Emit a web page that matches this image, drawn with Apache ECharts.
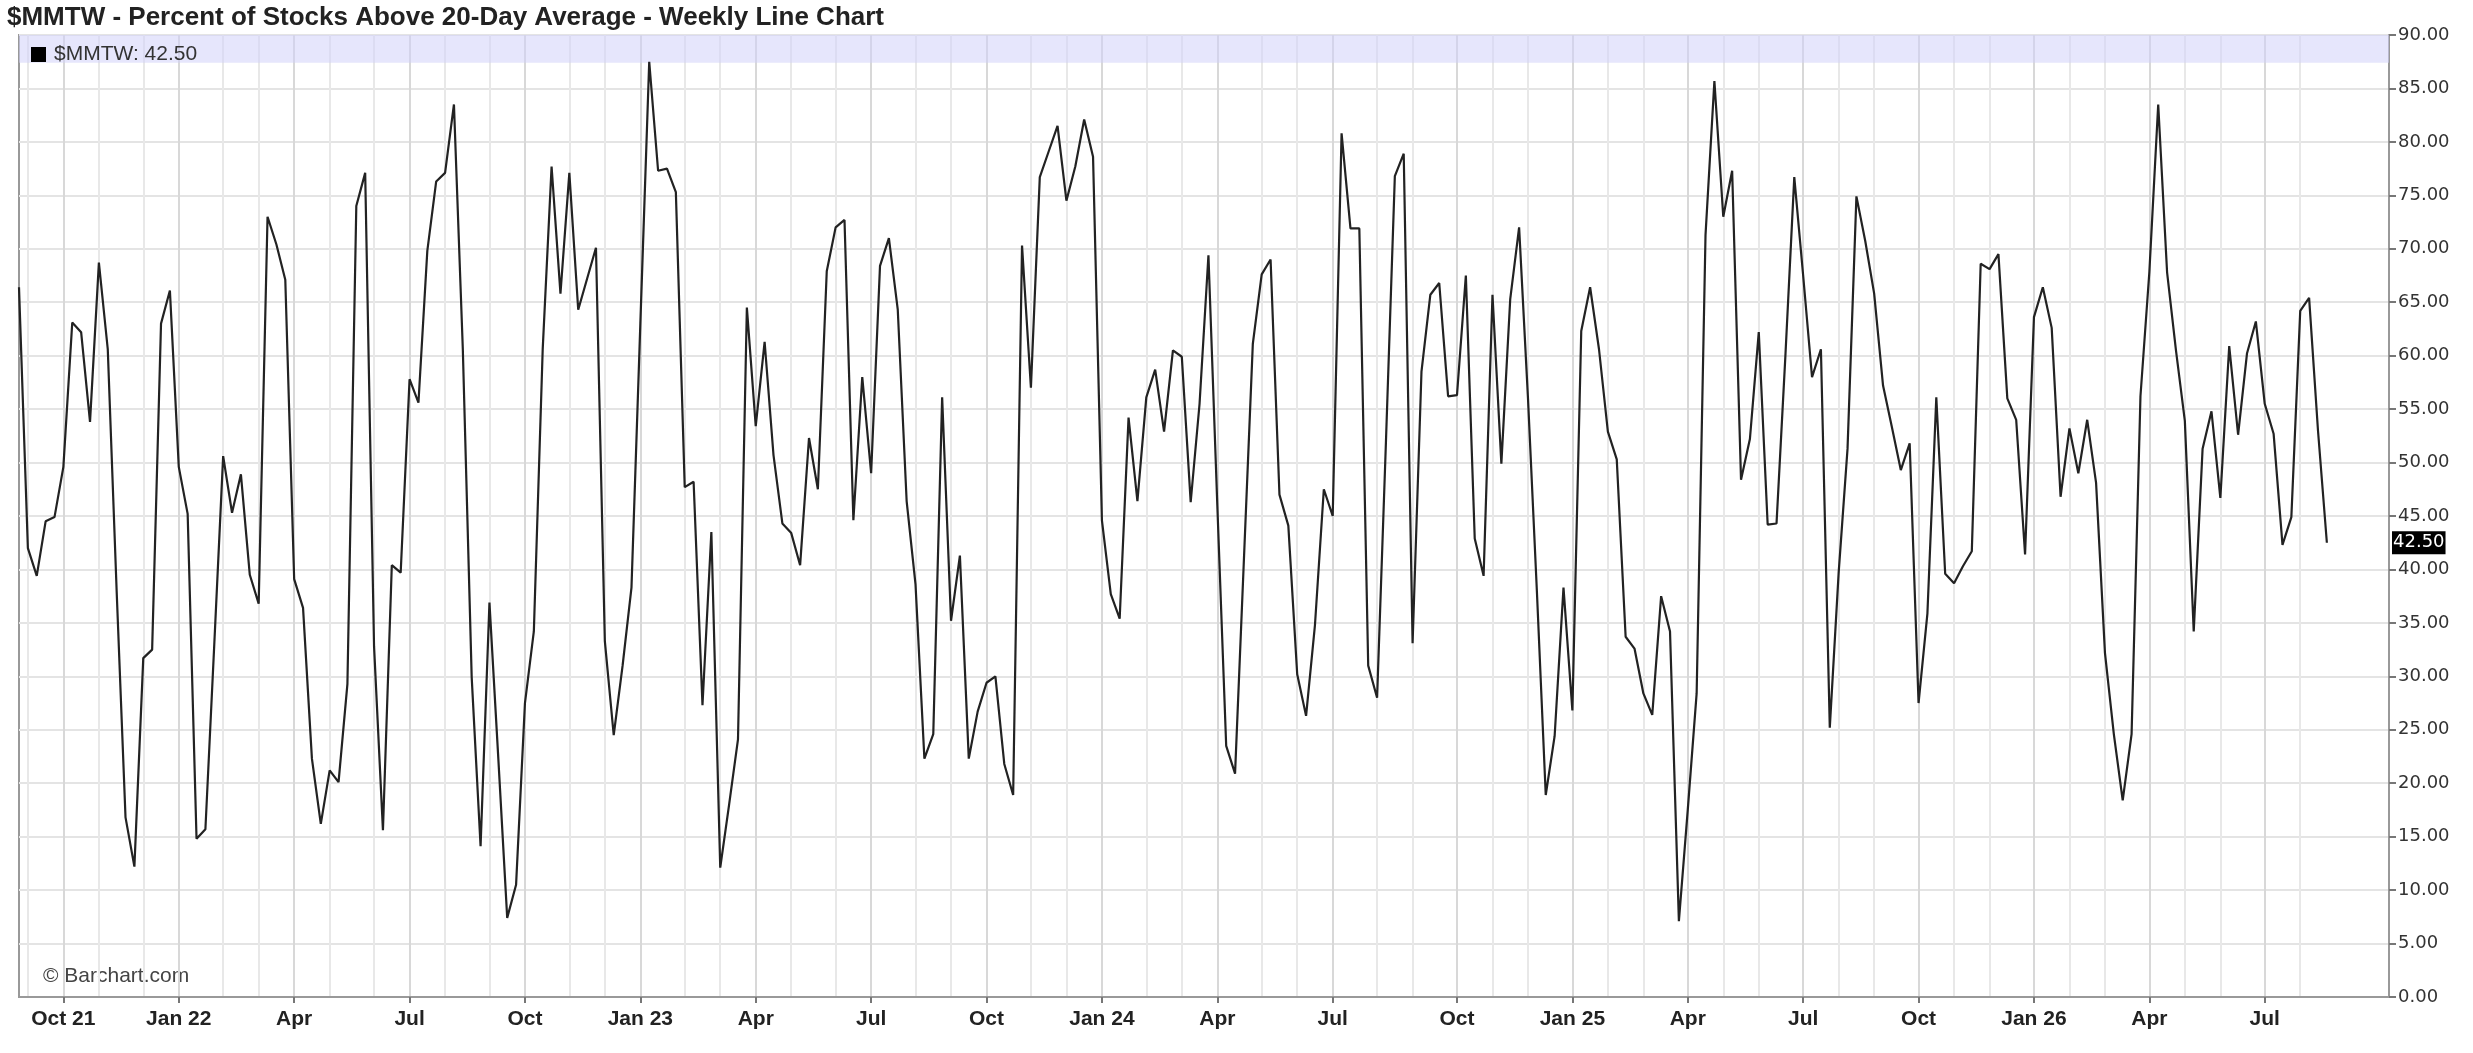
<!DOCTYPE html>
<html><head><meta charset="utf-8">
<script src="https://cdn.jsdelivr.net/npm/echarts@6/dist/echarts.min.js"></script>
<style>html,body{margin:0;padding:0;background:#fff}#c{width:2473px;height:1053px}</style>
</head><body><div id="c"></div>
<script>
// Weekly values ($MMTW), first week starting 2021-08-30
const part1 = [66.4, 42.0, 39.4, 44.5, 44.9, 49.6, 63.1, 62.2, 53.8, 68.7, 60.6, 38.0, 16.8, 12.2, 31.7, 32.5, 63.0, 66.1, 49.6, 45.2, 14.8, 15.7, 33.0, 50.6, 45.3, 48.9, 39.5, 36.8, 73.0];
const part2 = [70.4, 67.1, 39.1, 36.4, 22.3, 16.2, 21.2, 20.1, 29.3, 74.0, 77.1, 32.8, 15.6, 40.4, 39.7, 57.8, 55.6, 69.8, 76.3, 77.1, 83.5, 60.6, 29.9, 14.1, 36.9, 22.3, 7.4, 10.5, 27.5, 34.2];
const part3 = [60.6, 77.7, 65.8, 77.1, 64.3, 67.2, 70.1, 33.3, 24.5, 31.0, 38.3, 63.0, 87.5, 77.3, 77.5, 75.3, 47.7, 48.2, 27.3, 43.5, 12.1, 18.0, 24.1, 64.5, 53.4, 61.3, 50.7, 44.3, 43.4];
const part4 = [40.4, 52.3, 47.5, 67.9, 72.0, 72.7, 44.6, 58.0, 49.0, 68.4, 71.0, 64.3, 46.4, 38.6, 22.3, 24.6, 56.1, 35.2, 41.3, 22.3, 26.7, 29.4, 30.0, 21.8, 18.9, 70.3, 57.0, 76.7, 79.1, 81.5];
const part5 = [74.5, 77.7, 82.1, 78.6, 44.6, 37.7, 35.4, 54.2, 46.4, 56.1, 58.7, 52.9, 60.5, 59.9, 46.3, 55.5, 69.4, 46.0, 23.5, 20.9, 41.0, 61.1, 67.6, 69.0, 47.0, 44.1, 30.2, 26.3, 34.8];
const part6 = [47.5, 45.0, 80.8, 71.9, 71.9, 31.0, 28.0, 52.0, 76.8, 78.9, 33.1, 58.5, 65.7, 66.8, 56.2, 56.3, 67.5, 42.9, 39.4, 65.7, 49.9, 65.3, 72.0, 56.0, 38.0, 18.9, 24.4, 38.3, 26.8];
const part7 = [62.3, 66.4, 60.6, 52.9, 50.3, 33.7, 32.6, 28.4, 26.4, 37.5, 34.2, 7.1, 17.5, 28.4, 71.3, 85.7, 73.0, 77.3, 48.4, 52.2, 62.2, 44.2, 44.3, 60.0, 76.7, 67.5, 58.0, 60.6, 25.2];
const part8 = [39.7, 51.3, 74.9, 70.7, 65.8, 57.2, 53.3, 49.3, 51.8, 27.5, 35.9, 56.1, 39.6, 38.7, 40.3, 41.7, 68.6, 68.1, 69.5, 56.0, 54.0, 41.4, 63.6, 66.4, 62.6, 46.8, 53.2, 49.0, 54.0, 48.1];
const part9 = [32.2, 24.6, 18.4, 24.6, 56.2, 67.8, 83.5, 67.8, 60.5, 53.9, 34.2, 51.3, 54.8, 46.7, 60.9, 52.6, 60.2, 63.2, 55.5, 52.7, 42.3, 44.9, 64.2, 65.4, 53.0, 42.5];
const quarterLabels = ['Oct 21','Jan 22','Apr','Jul','Oct','Jan 23','Apr','Jul','Oct','Jan 24','Apr','Jul','Oct','Jan 25','Apr','Jul','Oct','Jan 26','Apr','Jul'];
const yMin = 0, yMax = 90, yStep = 5;
const lastValue = 42.50;
const seriesName = '$MMTW';
const titleText = '$MMTW - Percent of Stocks Above 20-Day Average - Weekly Line Chart';
const startWeek = Date.UTC(2021, 7, 30);
const padWeeks = 7;

const values = [].concat(part1, part2, part3, part4, part5, part6, part7, part8, part9);
const categories = [];
for (let i = 0; i < values.length + padWeeks; i++) {
  categories.push(new Date(startWeek + i * 7 * 86400000).toISOString().slice(0, 10));
}
function isMonthStart(i) {
  if (i <= 0 || i >= values.length) return false;
  return categories[i].slice(5, 7) !== categories[i - 1].slice(5, 7);
}
function isQuarterStart(i) {
  return isMonthStart(i) && [1, 4, 7, 10].indexOf(+categories[i].slice(5, 7)) >= 0;
}
const quarterIdx = [];
categories.forEach((c, i) => { if (isQuarterStart(i)) quarterIdx.push(i); });

const chart = echarts.init(document.getElementById('c'), null, {renderer: 'canvas'});
chart.setOption({
  animation: false,
  backgroundColor: '#fff',
  title: {
    text: titleText, left: 2, top: 0,
    textStyle: {fontFamily: 'Liberation Sans', fontWeight: 'bold', fontSize: 26, color: '#222'}
  },
  legend: {
    data: [seriesName], left: 26, top: 39, icon: 'rect', itemWidth: 15, itemHeight: 15, itemGap: 0,
    formatter: n => n + ': ' + lastValue.toFixed(2),
    textStyle: {fontFamily: 'Liberation Sans', fontSize: 21, color: '#333', padding: [0, 0, 0, 3]},
    selectedMode: false
  },
  graphic: [{
    type: 'text', left: 43, top: 966,
    style: {text: '© Barchart.com', fontFamily: 'Liberation Sans', fontSize: 21, fill: '#444'}
  }],
  grid: {left: 19, right: 84, top: 35, bottom: 56, show: true, borderColor: '#999', borderWidth: 2, backgroundColor: 'transparent'},
  xAxis: [{
    type: 'category', data: categories, boundaryGap: false,
    axisLine: {lineStyle: {color: '#999', width: 2}},
    axisTick: {interval: (i) => isQuarterStart(i), length: 6, lineStyle: {color: '#777', width: 2}},
    axisLabel: {
      interval: (i) => isQuarterStart(i),
      formatter: (v, i) => { const k = quarterIdx.indexOf(i); return k >= 0 ? quarterLabels[k] : ''; },
      fontFamily: 'Liberation Sans', fontWeight: 'bold', fontSize: 21, color: '#222', margin: 12
    },
    splitLine: {show: true, interval: (i) => isMonthStart(i), lineStyle: {color: '#e8e8e8', width: 2}}
  }, {
    type: 'category', data: categories, boundaryGap: false, position: 'bottom',
    axisLine: {show: false}, axisTick: {show: false}, axisLabel: {show: false},
    splitLine: {show: true, interval: (i) => isQuarterStart(i), lineStyle: {color: '#d8d8d8', width: 2}}
  }],
  yAxis: {
    type: 'value', position: 'right', min: yMin, max: yMax, interval: yStep,
    axisLine: {show: true, lineStyle: {color: '#999', width: 2}},
    axisTick: {show: true, length: 7, lineStyle: {color: '#777', width: 2}},
    axisLabel: {formatter: v => v.toFixed(2), fontFamily: 'DejaVu Sans', fontSize: 18, color: '#333', margin: 9},
    splitLine: {lineStyle: {color: '#e4e4e4', width: 2}}
  },
  series: [{
    name: seriesName, type: 'line', data: values, symbol: 'none',
    itemStyle: {color: '#000'},
    lineStyle: {color: '#222', width: 2.2},
    markArea: {
      silent: true,
      itemStyle: {color: 'rgba(210,210,250,0.55)'},
      data: [[{yAxis: 87.4}, {yAxis: 90}]]
    },
    markLine: {
      silent: true, symbol: ['none', 'none'],
      lineStyle: {width: 0, color: 'rgba(0,0,0,0)'},
      label: {
        show: true, opacity: 1,
        position: 'end', formatter: () => lastValue.toFixed(2), distance: 3,
        backgroundColor: '#000', color: '#fff', fontFamily: 'DejaVu Sans', fontSize: 18, padding: [3, 1, 2, 1]
      },
      data: [{yAxis: lastValue}]
    }
  }]
});
</script></body></html>
